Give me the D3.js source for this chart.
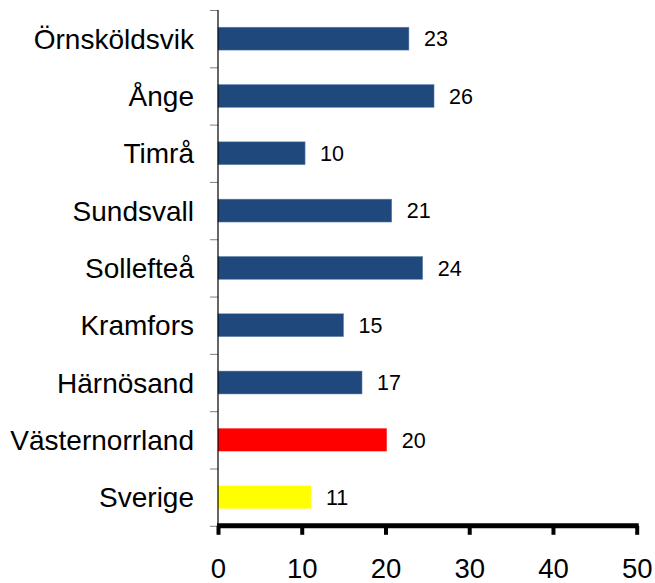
<!DOCTYPE html>
<html>
<head>
<meta charset="utf-8">
<script src="https://cdn.jsdelivr.net/npm/d3@7"></script>
<style>
  body { margin: 0; background: #fff; }
  svg text { font-family: "Liberation Sans", Arial, sans-serif; fill: #000; }
</style>
</head>
<body>
<div id="chart"></div>
<script>
// data (bar lengths), labels are the rounded numbers shown
var kommuner = ["Örnsköldsvik", "Ånge", "Timrå", "Sundsvall", "Sollefteå", "Kramfors", "Härnösand", "Västernorrland", "Sverige"];
var values = [22.8, 25.8, 10.4, 20.75, 24.45, 15.0, 17.2, 20.15, 11.1];
var valueLabels = ["23", "26", "10", "21", "24", "15", "17", "20", "11"];
var barColors = ["#1F497D", "#1F497D", "#1F497D", "#1F497D", "#1F497D", "#1F497D", "#1F497D", "#FF0000", "#FFFF00"];
var xTicks = [0, 10, 20, 30, 40, 50];

var width = 655, height = 583;
var plotLeft = 218, plotRight = 636.7, plotTop = 10, plotBottom = 525.8;

var svg = d3.select("#chart").append("svg")
  .attr("width", width)
  .attr("height", height);

var x = d3.scaleLinear().domain([0, 50]).range([plotLeft, plotRight]);
var y = d3.scaleBand().domain(kommuner).range([plotTop, plotBottom])
  .paddingInner(0.6).paddingOuter(0.3);

// boundary ticks between categories
var yIdx = d3.scaleLinear().domain([0, kommuner.length]).range([plotTop, plotBottom]);
var gTicks = svg.append("g")
  .attr("transform", "translate(" + plotLeft + ",0)")
  .call(d3.axisLeft(yIdx).tickValues(d3.range(kommuner.length + 1)).tickSize(8).tickFormat(""));
gTicks.select(".domain").remove();
gTicks.selectAll(".tick line").attr("stroke", "#808080").attr("stroke-width", 1);

// category labels
var gY = svg.append("g")
  .attr("transform", "translate(" + plotLeft + ",0)")
  .call(d3.axisLeft(y).tickSize(0).tickPadding(24));
gY.select(".domain").remove();
gY.selectAll(".tick text")
  .style("font-size", "28px")
  .attr("dy", "0.36em");

// bars
svg.append("g").selectAll("rect")
  .data(kommuner).enter()
  .append("rect")
  .attr("x", x(0))
  .attr("y", d => y(d))
  .attr("width", (d, i) => x(values[i]) - x(0))
  .attr("height", y.bandwidth())
  .attr("fill", (d, i) => barColors[i])
  .attr("stroke", (d, i) => i < 7 ? "#6F8DB4" : "none")
  .attr("stroke-width", 0.5);

// value labels
svg.append("g").selectAll("text")
  .data(kommuner).enter()
  .append("text")
  .attr("x", (d, i) => x(values[i]) + 15)
  .attr("y", d => y(d) + y.bandwidth() / 2)
  .attr("dy", "0.36em")
  .style("font-size", "21.5px")
  .text((d, i) => valueLabels[i]);

// left axis line
svg.append("line")
  .attr("x1", plotLeft).attr("x2", plotLeft)
  .attr("y1", plotTop).attr("y2", plotBottom)
  .attr("stroke", "#000").attr("stroke-width", 1.2);

// bottom axis
var gX = svg.append("g")
  .attr("transform", "translate(0," + plotBottom + ")")
  .call(d3.axisBottom(x).tickValues(xTicks).tickSize(9).tickSizeOuter(0).tickPadding(24));
gX.select(".domain").attr("stroke", "#000").attr("stroke-width", 5)
  .attr("d", "M" + (plotLeft - 1) + ",0H" + (plotRight + 2));
gX.selectAll(".tick line").attr("stroke", "#000").attr("stroke-width", 4);
gX.selectAll(".tick text").style("font-size", "27.5px");
</script>
</body>
</html>
